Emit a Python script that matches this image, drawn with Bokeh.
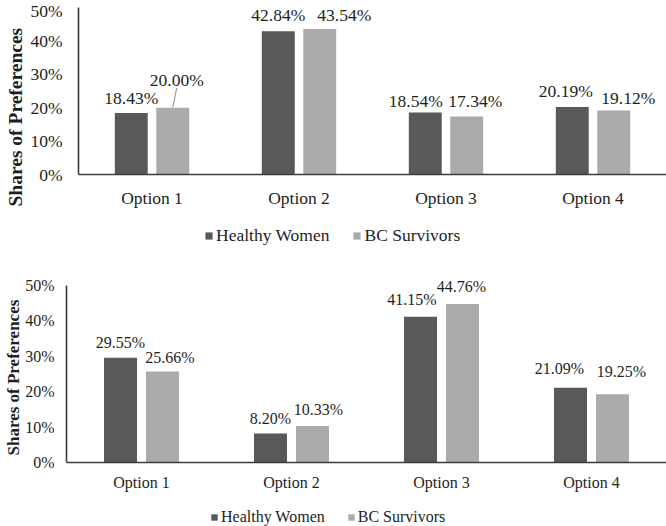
from bokeh.plotting import figure
from bokeh.layouts import column
from bokeh.models import (ColumnDataSource, Legend, LegendItem, FactorRange,
                          Range1d, FixedTicker, Title)
from bokeh.transform import dodge
from bokeh.core.properties import value
from bokeh.embed import file_html
from bokeh.resources import INLINE

# ---------------- data ----------------
categories = ["Option 1", "Option 2", "Option 3", "Option 4"]
series_names = ["Healthy Women", "BC Survivors"]
top_healthy = [18.43, 42.84, 18.54, 20.19]
top_bc = [20.00, 43.54, 17.34, 19.12]
bottom_healthy = [29.55, 8.20, 41.15, 21.09]
bottom_bc = [25.66, 10.33, 44.76, 19.25]
y_ticks = [0, 10, 20, 30, 40, 50]
y_tick_labels = ["0%", "10%", "20%", "30%", "40%", "50%"]
y_title = "Shares of Preferences"

# ---------------- style ----------------
FONT = value("Liberation Serif")
DARK = "#595959"
LIGHT = "#ababab"
TEXT = "#1e1e1e"
AXIS = "#3c3c3c"
W = 666

# per-label pixel nudges (x right, y above bar top), as in the original layout
top_hw_dx = [0, 0, -9.5, -6.5]
top_hw_dy = [15, 16.5, 12, 16]
top_bc_dx = [4, 24.5, 8.5, 14.5]
top_bc_dy = [28, 14.5, 16, 13]
bot_hw_dx = [0, 0, -8.5, -11]
bot_hw_dy = [15.5, 14.5, 17, 19.5]
bot_bc_dx = [7.5, 6, -1, 9]
bot_bc_dy = [14, 16.5, 17, 23]


def make_chart(healthy, bc, hw_dx, hw_dy, bc_dx, bc_dy, cfg):
    src = ColumnDataSource(dict(
        cat=categories, hw=healthy, bc=bc,
        hw_lbl=[f"{v:.2f}%" for v in healthy],
        bc_lbl=[f"{v:.2f}%" for v in bc],
        hw_dx=hw_dx, hw_dy=[-d for d in hw_dy],
        bc_dx=bc_dx, bc_dy=[-d for d in bc_dy],
    ))
    frame_h = cfg["frame_bottom"]
    px_per_unit = (frame_h - cfg["axis_top"]) / 50.0
    y_end = frame_h / px_per_unit
    off, bw = cfg["bar_offset"], cfg["bar_width"]
    p = figure(x_range=FactorRange(*categories), y_range=Range1d(0, y_end),
               width=W, height=cfg["h"], output_backend="svg",
               toolbar_location=None,
               min_border_left=cfg["left"], min_border_right=0,
               min_border_top=0, min_border_bottom=cfg["h"] - frame_h)
    p.frame_align = False
    p.outline_line_color = None
    p.background_fill_color = "white"
    p.border_fill_color = "white"
    p.xgrid.visible = False
    p.ygrid.visible = False

    p.vbar(x=dodge("cat", -off, range=p.x_range), top="hw",
           width=bw, source=src, fill_color=DARK, line_color=None)
    p.vbar(x=dodge("cat", off, range=p.x_range), top="bc",
           width=bw, source=src, fill_color=LIGHT, line_color=None)

    fs = cfg["fs"]
    p.text(x=dodge("cat", -off, range=p.x_range), y="hw", text="hw_lbl",
           x_offset="hw_dx", y_offset="hw_dy", source=src,
           text_align="center", text_baseline="middle", text_font=FONT,
           text_font_size=fs, text_color=TEXT)
    p.text(x=dodge("cat", off, range=p.x_range), y="bc", text="bc_lbl",
           x_offset="bc_dx", y_offset="bc_dy", source=src,
           text_align="center", text_baseline="middle", text_font=FONT,
           text_font_size=fs, text_color=TEXT)

    # leader line for a raised label
    if cfg.get("leader") is not None:
        i, dx_px, len_px = cfg["leader"]
        px_per_cat = (W - cfg["left"]) / len(categories)
        lsrc = ColumnDataSource(dict(
            x0=[(categories[i], off)],
            x1=[(categories[i], off + dx_px / px_per_cat)],
            y0=[bc[i]], y1=[bc[i] + len_px / px_per_unit]))
        p.segment(x0="x0", y0="y0", x1="x1", y1="y1", source=lsrc,
                  line_color="#8c8c8c", line_width=1)

    # axes
    p.yaxis.ticker = FixedTicker(ticks=y_ticks)
    p.yaxis.major_label_overrides = {t: l for t, l in zip(y_ticks, y_tick_labels)}
    p.yaxis.bounds = (0, 50)
    for ax in (p.xaxis, p.yaxis):
        ax.major_tick_line_color = None
        ax.minor_tick_line_color = None
        ax.major_tick_in = 0
        ax.major_tick_out = 0
        ax.axis_line_color = AXIS
        ax.axis_line_width = 1.6
        ax.major_label_text_font = "Liberation Serif"
        ax.major_label_text_font_size = fs
        ax.major_label_text_color = TEXT
    p.xaxis.major_label_standoff = cfg["xstand"]
    p.yaxis.major_label_standoff = cfg["ystand"]

    title = Title(text=y_title, align="left", offset=cfg["toffset"],
                  standoff=cfg["tstand"], text_font="Liberation Serif",
                  text_font_style="bold", text_font_size=cfg["tfs"],
                  text_color=TEXT)
    p.add_layout(title, "left")

    # legend strip under the chart
    lf = figure(width=W, height=cfg["leg_h"], x_range=Range1d(0, 1),
                y_range=Range1d(0, 1), output_backend="svg",
                toolbar_location=None, min_border=0,
                x_axis_location=None, y_axis_location=None)
    lf.frame_align = False
    lf.grid.visible = False
    lf.outline_line_color = None
    g1 = lf.vbar(x=[0.5], top=[0], width=0, fill_color=DARK, line_color=None)
    g2 = lf.vbar(x=[0.5], top=[0], width=0, fill_color=LIGHT, line_color=None)
    legend = Legend(items=[LegendItem(label=series_names[0], renderers=[g1]),
                           LegendItem(label=series_names[1], renderers=[g2])],
                    orientation="horizontal", location=cfg["legend_loc"],
                    padding=0, margin=0, spacing=cfg["lspace"],
                    label_standoff=cfg["lstand"],
                    glyph_width=cfg["glyph"], glyph_height=cfg["glyph"],
                    label_height=16,
                    border_line_color=None, background_fill_alpha=0,
                    label_text_font="Liberation Serif", label_text_font_size=fs,
                    label_text_color=TEXT)
    lf.add_layout(legend)
    return p, lf


top_cfg = dict(h=210, frame_bottom=176, axis_top=7, left=78, fs="17.5px",
               tfs="19.5px", xstand=13, ystand=16, toffset=-32, tstand=3,
               bar_offset=0.141, bar_width=0.224,
               leg_h=52, legend_loc=(204, 16), lspace=23, lstand=3, glyph=9,
               leader=(0, 4, 20))
bot_cfg = dict(h=231, frame_bottom=201, axis_top=23, left=66, fs="16px",
               tfs="17px", xstand=11, ystand=12, toffset=7, tstand=0,
               bar_offset=0.14, bar_width=0.22,
               leg_h=33, legend_loc=(210, 0), lspace=22, lstand=3, glyph=8,
               leader=None)

p1, l1 = make_chart(top_healthy, top_bc, top_hw_dx, top_hw_dy, top_bc_dx, top_bc_dy, top_cfg)
p2, l2 = make_chart(bottom_healthy, bottom_bc, bot_hw_dx, bot_hw_dy, bot_bc_dx, bot_bc_dy, bot_cfg)

layout = column(p1, l1, p2, l2, spacing=0)
open("out.html", "w").write(file_html(layout, INLINE))
